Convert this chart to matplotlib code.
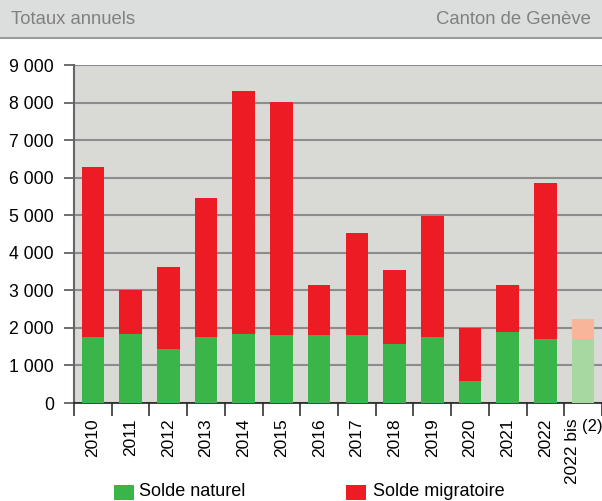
import numpy as np
import matplotlib
matplotlib.use("Agg")
import matplotlib.pyplot as plt
import matplotlib.transforms as mtransforms
from matplotlib.patches import Rectangle
from matplotlib.ticker import FuncFormatter

plt.rcParams['font.family'] = ['Liberation Sans', 'DejaVu Sans']

years = ['2010', '2011', '2012', '2013', '2014', '2015', '2016', '2017',
         '2018', '2019', '2020', '2021', '2022', '2022 bis']
solde_naturel = [1760, 1840, 1440, 1760, 1840, 1810, 1810, 1810,
                 1570, 1760, 590, 1890, 1700, 1700]
solde_total = [6290, 3010, 3610, 5470, 8310, 8020, 3140, 4520,
               3530, 4980, 2010, 3140, 5860, 2240]
solde_migratoire = [t - n for t, n in zip(solde_total, solde_naturel)]

green = '#3ab54a'
red = '#ed1c24'
green_light = '#a8d8a2'
red_light = '#f9b59a'

fig = plt.figure(figsize=(6.02, 5.01), dpi=100)

# header band
fig.patches.append(Rectangle((0, 1 - 37 / 501), 1, 37 / 501, transform=fig.transFigure,
                             facecolor='#dcdddd', edgecolor='none', zorder=0))
fig.lines.append(plt.Line2D([0, 1], [1 - 37.5 / 501, 1 - 37.5 / 501], transform=fig.transFigure,
                            color='#9a9a9a', lw=1.5))
fig.text(11 / 602, 1 - 20 / 501, 'Totaux annuels', color='#808080', fontsize=13.3, va='center')
fig.text(591 / 602, 1 - 20 / 501, 'Canton de Genève', color='#808080', fontsize=13.3,
         va='center', ha='right')

ax = fig.add_axes([74 / 602, 98 / 501, 528 / 602, 338 / 501])
ax.set_facecolor('#d9d9d5')

x = np.arange(len(years))
cn = [green] * (len(years) - 1) + [green_light]
cm = [red] * (len(years) - 1) + [red_light]
ax.bar(x, solde_naturel, width=0.6, color=cn, zorder=3)
ax.bar(x, solde_migratoire, width=0.6, bottom=solde_naturel, color=cm, zorder=3)

ax.set_xlim(-0.5, len(years) - 0.5)
ax.set_ylim(0, 9000)
ax.set_yticks(np.arange(0, 9001, 1000))
ax.yaxis.set_major_formatter(FuncFormatter(lambda v, p: f'{int(v):,}'.replace(',', ' ')))
ax.grid(axis='y', color='#8c8c8c', lw=1.5, zorder=1)
ax.tick_params(axis='y', length=7.5, width=1.2, color='#555555', labelsize=12.7, pad=7)

ax.set_xticks(x)
ax.set_xticklabels(years, rotation=90, fontsize=12.5)
ax.tick_params(axis='x', length=0, pad=11)
ax.set_xticks(np.arange(-0.5, len(years), 1), minor=True)
ax.tick_params(axis='x', which='minor', length=9, width=1.2, color='#333333')

# shift the last label left to leave room for the note
last = ax.get_xticklabels()[-1]
last.set_transform(last.get_transform() + mtransforms.ScaledTranslation(-11 / 100, 0, fig.dpi_scale_trans))

for s in ['top', 'right']:
    ax.spines[s].set_visible(False)
ax.spines['left'].set_color('#666666')
ax.spines['left'].set_linewidth(1.5)
ax.spines['bottom'].set_color('#222222')
ax.spines['bottom'].set_linewidth(1.2)

fig.text(592 / 602, 1 - 426 / 501, '(2)', fontsize=12, ha='center', va='center')

# legend
fig.patches.append(Rectangle((114 / 602, 1 - 500 / 501), 20 / 602, 15 / 501,
                             transform=fig.transFigure, facecolor=green, edgecolor='none'))
fig.text(139 / 602, 1 - 492 / 501, 'Solde naturel', fontsize=13, va='center')
fig.patches.append(Rectangle((346 / 602, 1 - 500 / 501), 20 / 602, 15 / 501,
                             transform=fig.transFigure, facecolor=red, edgecolor='none'))
fig.text(373 / 602, 1 - 492 / 501, 'Solde migratoire', fontsize=13, va='center')

fig.savefig('out.png', dpi=100)
